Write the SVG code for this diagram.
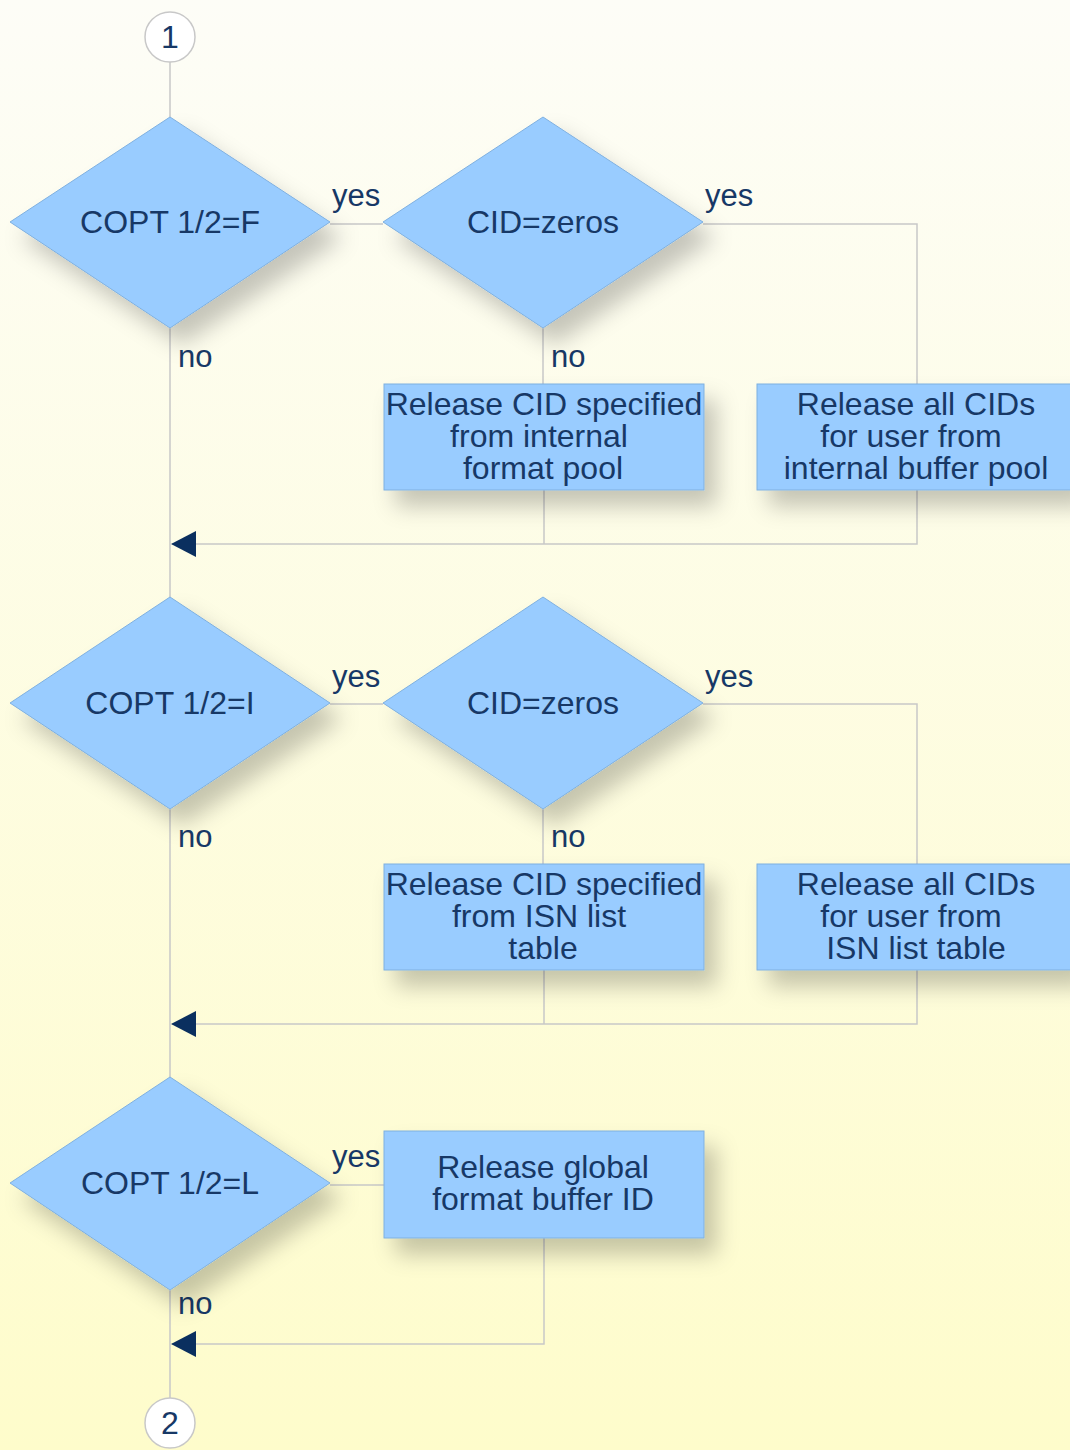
<svg xmlns="http://www.w3.org/2000/svg" width="1070" height="1450" viewBox="0 0 1070 1450">
<defs>
<linearGradient id="bg" x1="0" y1="0" x2="0" y2="1">
<stop offset="0" stop-color="#fdfdf7"/>
<stop offset="1" stop-color="#fefccb"/>
</linearGradient>
<filter id="sh" x="-20%" y="-20%" width="150%" height="170%">
<feDropShadow dx="12" dy="16" stdDeviation="11" flood-color="#000" flood-opacity="0.22"/>
</filter>
</defs>
<style>
.shape{fill:#99ccff;stroke:#7fb0e0;stroke-width:1;filter:url(#sh)}
.circ{fill:#ffffff;stroke:#c8c8c8;stroke-width:1.5}
.t{font-family:"Liberation Sans",Arial,sans-serif;font-size:32px;fill:#173866;text-anchor:middle}
.lbl{font-family:"Liberation Sans",Arial,sans-serif;font-size:31px;fill:#173866}
.ln{fill:none;stroke:#c8c8c8;stroke-width:1.5}
.ah{fill:#0a2f5f}
</style>
<rect x="0" y="0" width="1070" height="1450" fill="url(#bg)"/>
<g id="connectors">
<path class="ln" d="M170 62V117M170 328V597M170 809V1077M170 1290V1398"/>
<path class="ln" d="M330 224H383M703 224H917V384M543 328V384M544 490V544M917 490V544H172"/>
<path class="ln" d="M330 704H383M703 704H917V864M543 809V864M544 970V1024M917 970V1024H172"/>
<path class="ln" d="M330 1185H384M544 1238V1344H172"/>
<polygon class="ah" points="171,544 196,531 196,557"/>
<polygon class="ah" points="171,1024 196,1011 196,1037"/>
<polygon class="ah" points="171,1344 196,1331 196,1357"/>
<text class="lbl" x="332" y="206">yes</text>
<text class="lbl" x="705" y="206">yes</text>
<text class="lbl" x="178" y="367">no</text>
<text class="lbl" x="551" y="367">no</text>
<text class="lbl" x="332" y="687">yes</text>
<text class="lbl" x="705" y="687">yes</text>
<text class="lbl" x="178" y="847">no</text>
<text class="lbl" x="551" y="847">no</text>
<text class="lbl" x="332" y="1167">yes</text>
<text class="lbl" x="178" y="1314">no</text>
</g>
<g id="start">
<circle class="circ" cx="170" cy="37" r="25"/>
<text class="t" x="170" y="48">1</text>
</g>
<g id="d1">
<polygon class="shape" points="170,117 330,222 170,328 10,222"/>
<text class="t" x="170" y="233">COPT 1/2=F</text>
</g>
<g id="d2">
<polygon class="shape" points="543,117 703,222 543,328 383,222"/>
<text class="t" x="543" y="233">CID=zeros</text>
</g>
<g id="b1">
<rect class="shape" x="384" y="384" width="320" height="106"/>
<text class="t" x="544" y="415">Release CID specified</text>
<text class="t" x="539" y="447">from internal</text>
<text class="t" x="543" y="479">format pool</text>
</g>
<g id="b2">
<rect class="shape" x="757" y="384" width="320" height="106"/>
<text class="t" x="916" y="415">Release all CIDs</text>
<text class="t" x="911" y="447">for user from</text>
<text class="t" x="916" y="479">internal buffer pool</text>
</g>
<g id="d3">
<polygon class="shape" points="170,597 330,703 170,809 10,703"/>
<text class="t" x="170" y="714">COPT 1/2=I</text>
</g>
<g id="d4">
<polygon class="shape" points="543,597 703,703 543,809 383,703"/>
<text class="t" x="543" y="714">CID=zeros</text>
</g>
<g id="b3">
<rect class="shape" x="384" y="864" width="320" height="106"/>
<text class="t" x="544" y="895">Release CID specified</text>
<text class="t" x="539" y="927">from ISN list</text>
<text class="t" x="543" y="959">table</text>
</g>
<g id="b4">
<rect class="shape" x="757" y="864" width="320" height="106"/>
<text class="t" x="916" y="895">Release all CIDs</text>
<text class="t" x="911" y="927">for user from</text>
<text class="t" x="916" y="959">ISN list table</text>
</g>
<g id="d5">
<polygon class="shape" points="170,1077 330,1183 170,1290 10,1183"/>
<text class="t" x="170" y="1194">COPT 1/2=L</text>
</g>
<g id="b5">
<rect class="shape" x="384" y="1131" width="320" height="107"/>
<text class="t" x="543" y="1178">Release global</text>
<text class="t" x="543" y="1210">format buffer ID</text>
</g>
<g id="end">
<circle class="circ" cx="170" cy="1423" r="25"/>
<text class="t" x="170" y="1434">2</text>
</g>
</svg>
